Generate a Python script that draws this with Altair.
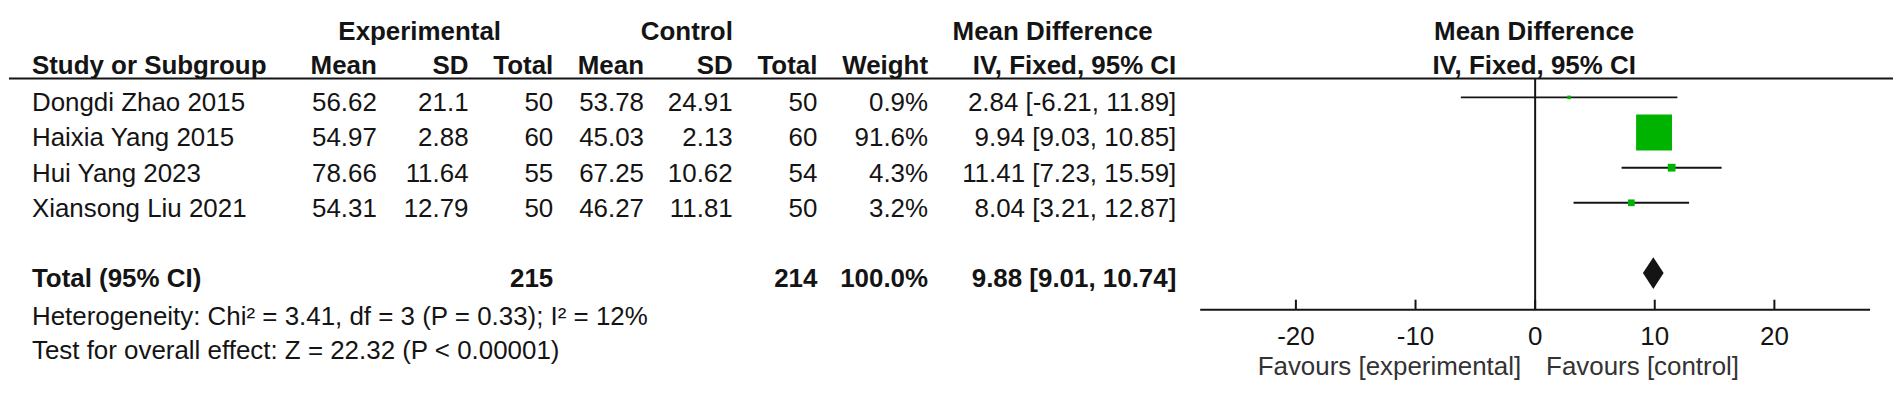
import altair as alt
import pandas as pd

# ---------------- data ----------------
studies = ["Dongdi Zhao 2015", "Haixia Yang 2015", "Hui Yang 2023", "Xiansong Liu 2021"]
exp_mean = [56.62, 54.97, 78.66, 54.31]
exp_sd = [21.1, 2.88, 11.64, 12.79]
exp_n = [50, 60, 55, 50]
ctl_mean = [53.78, 45.03, 67.25, 46.27]
ctl_sd = [24.91, 2.13, 10.62, 11.81]
ctl_n = [50, 60, 54, 50]
weights = [0.9, 91.6, 4.3, 3.2]
md = [2.84, 9.94, 11.41, 8.04]
ci_low = [-6.21, 9.03, 7.23, 3.21]
ci_high = [11.89, 10.85, 15.59, 12.87]

total_label = "Total (95% CI)"
total_exp_n = 215
total_ctl_n = 214
total_weight = 100.0
total_md = 9.88
total_low = 9.01
total_high = 10.74

heterogeneity = "Heterogeneity: Chi\u00b2 = 3.41, df = 3 (P = 0.33); I\u00b2 = 12%"
overall = "Test for overall effect: Z = 22.32 (P < 0.00001)"

x_domain = [-28, 28]
tick_values = [-20, -10, 0, 10, 20]
favour_left = "Favours [experimental]"
favour_right = "Favours [control]"

# ---------------- layout helpers ----------------
M = 8  # page margin
W, H = 1902 - 2 * M, 405 - 2 * M
FONT = "Liberation Sans"
FS = 26
INK = "#141414"
GREEN = "#00b300"


def px(v):
    return v - M


x_scale = alt.Scale(domain=x_domain, range=[px(1201), px(1873)], nice=False, zero=False)
y_scale = alt.Scale(domain=[-0.54, 6.04], range=[px(78), px(310)], nice=False, zero=False)

rows = list(range(len(studies)))
TOTAL_ROW = 5

layers = []


def col_layer(values, row_idx, xpos, align, bold=False):
    df = pd.DataFrame({"row": row_idx, "label": values})
    return alt.Chart(df).mark_text(
        align=align, baseline="middle", font=FONT, fontSize=FS,
        fontWeight="bold" if bold else "normal", color=INK, dy=6
    ).encode(
        x=alt.value(px(xpos)),
        y=alt.Y("row:Q", scale=y_scale, axis=None),
        text="label:N",
    )


def static_text(txt, x, y, align, bold=False, color=INK):
    df = pd.DataFrame({"t": [txt]})
    return alt.Chart(df).mark_text(
        align=align, baseline="middle", font=FONT, fontSize=FS,
        fontWeight="bold" if bold else "normal", color=color
    ).encode(x=alt.value(px(x)), y=alt.value(px(y)), text="t:N")


# ---- table header ----
layers += [
    static_text("Experimental", 418, 31, "center", True),
    static_text("Control", 686, 31, "center", True),
    static_text("Mean Difference", 1053, 31, "center", True),
    static_text("Mean Difference", 1536, 31, "center", True),
    static_text("Study or Subgroup", 29, 66, "left", True),
    static_text("Mean", 375, 66, "right", True),
    static_text("SD", 467, 66, "right", True),
    static_text("Total", 552, 66, "right", True),
    static_text("Mean", 643, 66, "right", True),
    static_text("SD", 732, 66, "right", True),
    static_text("Total", 817, 66, "right", True),
    static_text("Weight", 928, 66, "right", True),
    static_text("IV, Fixed, 95% CI", 1177, 66, "right", True),
    static_text("IV, Fixed, 95% CI", 1536, 66, "center", True),
]

# header rule
layers.append(
    alt.Chart(pd.DataFrame({"a": [0]})).mark_rule(color=INK, strokeWidth=2).encode(
        x=alt.value(px(6)), x2=alt.value(px(1896)), y=alt.value(px(78))
    )
)

# ---- study rows ----
fmt = lambda v: str(v)
layers += [
    col_layer(studies, rows, 29, "left"),
    col_layer([fmt(v) for v in exp_mean], rows, 375, "right"),
    col_layer([fmt(v) for v in exp_sd], rows, 467, "right"),
    col_layer([fmt(v) for v in exp_n], rows, 552, "right"),
    col_layer([fmt(v) for v in ctl_mean], rows, 643, "right"),
    col_layer([fmt(v) for v in ctl_sd], rows, 732, "right"),
    col_layer([fmt(v) for v in ctl_n], rows, 817, "right"),
    col_layer([f"{w}%" for w in weights], rows, 928, "right"),
    col_layer([f"{m:.2f} [{l:.2f}, {h:.2f}]" for m, l, h in zip(md, ci_low, ci_high)], rows, 1177, "right"),
]

# ---- total row ----
layers += [
    col_layer([total_label], [TOTAL_ROW], 29, "left", True),
    col_layer([str(total_exp_n)], [TOTAL_ROW], 552, "right", True),
    col_layer([str(total_ctl_n)], [TOTAL_ROW], 817, "right", True),
    col_layer([f"{total_weight}%"], [TOTAL_ROW], 928, "right", True),
    col_layer([f"{total_md:.2f} [{total_low:.2f}, {total_high:.2f}]"], [TOTAL_ROW], 1177, "right", True),
]

# ---- footer text ----
layers += [
    static_text(heterogeneity, 29, 317, "left"),
    static_text(overall, 29, 351, "left"),
]

# ---- forest plot ----
forest = pd.DataFrame({
    "row": rows, "md": md, "lo": ci_low, "hi": ci_high, "w": weights,
})

# zero line
layers.append(
    alt.Chart(pd.DataFrame({"z": [0]})).mark_rule(color=INK, strokeWidth=2).encode(
        x=alt.X("z:Q", scale=x_scale, axis=None),
        y=alt.value(px(78)), y2=alt.value(px(310)),
    )
)

# CI lines
layers.append(
    alt.Chart(forest).mark_rule(color=INK, strokeWidth=2).encode(
        x=alt.X("lo:Q", scale=x_scale, axis=None), x2="hi:Q",
        y=alt.Y("row:Q", scale=y_scale, axis=None),
    )
)

# weighted squares
layers.append(
    alt.Chart(forest).mark_square(color=GREEN, opacity=1, filled=True).encode(
        x=alt.X("md:Q", scale=x_scale, axis=None),
        y=alt.Y("row:Q", scale=y_scale, axis=None),
        size=alt.Size("w:Q", scale=alt.Scale(domain=[0, 100], range=[0, 1415]), legend=None),
    )
)

# diamond for pooled estimate
half = 0.45
diamond = pd.DataFrame({
    "x": [total_low, total_md, total_high],
    "y": [TOTAL_ROW, TOTAL_ROW - half, TOTAL_ROW],
    "y2": [TOTAL_ROW, TOTAL_ROW + half, TOTAL_ROW],
})
layers.append(
    alt.Chart(diamond).mark_area(color=INK, orient="vertical", opacity=1).encode(
        x=alt.X("x:Q", scale=x_scale, axis=None),
        y=alt.Y("y:Q", scale=y_scale, axis=None),
        y2="y2:Q",
    )
)

# x axis (drawn manually: ticks point upward)
axis_df = pd.DataFrame({"a": [x_domain[0]], "b": [x_domain[1]]})
layers.append(
    alt.Chart(axis_df).mark_rule(color=INK, strokeWidth=2).encode(
        x=alt.X("a:Q", scale=x_scale, axis=None), x2="b:Q", y=alt.value(px(310))
    )
)
ticks_df = pd.DataFrame({"t": tick_values, "lab": [str(t) for t in tick_values]})
layers.append(
    alt.Chart(ticks_df).mark_rule(color=INK, strokeWidth=2).encode(
        x=alt.X("t:Q", scale=x_scale, axis=None),
        y=alt.value(px(300)), y2=alt.value(px(310)),
    )
)
layers.append(
    alt.Chart(ticks_df).mark_text(font=FONT, fontSize=FS, color=INK, align="center", baseline="middle").encode(
        x=alt.X("t:Q", scale=x_scale, axis=None), y=alt.value(px(337)), text="lab:N"
    )
)
layers += [
    static_text(favour_left, 1523, 368, "right", False, "#333333"),
    static_text(favour_right, 1548, 368, "left", False, "#333333"),
]

chart = alt.layer(*layers).properties(
    width=W, height=H, padding=0, background="white"
).configure_view(strokeWidth=0)

chart.save("out.html", embed_options={"renderer": "svg", "actions": False})
